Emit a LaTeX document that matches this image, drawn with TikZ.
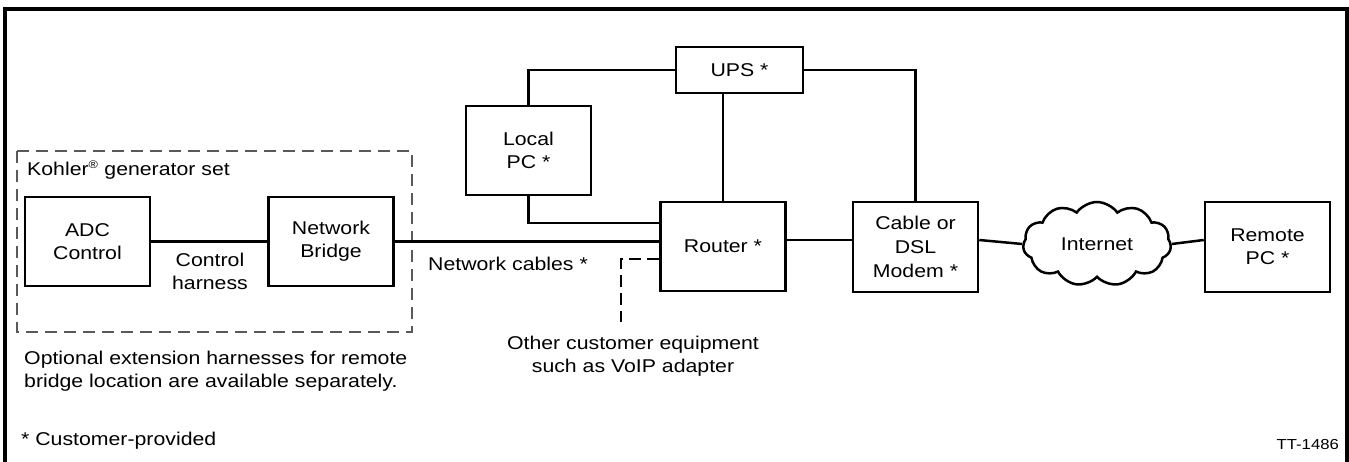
\documentclass[tikz,border=0pt]{standalone}
\usepackage{fontspec}
\setmainfont{Liberation Sans}[FakeStretch=1.15]
\usetikzlibrary{shapes.symbols}
\begin{document}
\begin{tikzpicture}[x=1pt,y=-1pt,
  every node/.style={font=\fontsize{18.5}{23}\selectfont},
  box/.style={draw,line width=2.5pt,minimum width=125pt,minimum height=89pt,align=center,inner sep=0pt},
  wire/.style={line width=2.5pt},
  dwire/.style={line width=2.5pt,dash pattern=on 12pt off 6pt},
  lbl/.style={align=center,inner sep=0pt},
]
\useasboundingbox (0,0) rectangle (1349,462);
% frame
\draw[line width=3.5pt] (5,470) -- (5,9) -- (1347,9) -- (1347,470);
% dashed group
\draw[gray!70!black,line width=1.3pt,dash pattern=on 12pt off 7pt] (17,151) rectangle (412,332);
\node[lbl,anchor=west] (kohler) at (27,170) {Kohler\textsuperscript{\fontsize{11}{11}\selectfont ®} generator set};
% boxes
\node[box] (adc) at (87.5,241.5) {ADC\\Control};
\node[box] (bridge) at (331,241.5) {Network\\Bridge};
\node[box] (router) at (723,246.5) {Router *};
\node[box] (local) at (528.5,150.5) {Local\\PC *};
\node[box,minimum width=127pt,minimum height=46pt] (ups) at (739.5,70) {UPS *};
\node[box,minimum height=90pt,font=\fontsize{18.5}{24}\selectfont] (modem) at (915.5,247) {Cable or\\DSL\\Modem *};
\node[box,minimum height=90pt] (remote) at (1267.5,247) {Remote\\PC *};
\node[cloud,draw,line width=2.5pt,cloud puffs=11,cloud puff arc=110,aspect=1.9,minimum width=148pt,minimum height=84pt,inner sep=0pt] (net) at (1097,244) {Internet};
% connectors
\draw[wire] (adc) -- (bridge);
\draw[wire] (bridge.east) -- (bridge.east -| router.west);
\draw[wire] (local.north) |- (ups.west);
\draw[wire] (local.south) |- ([yshift=23.5pt]router.west);
\draw[wire] (ups.south -| router.north) -- (router.north);
\draw[wire] (ups.east) -| (modem.north);
\draw[wire] ([yshift=6.5pt]router.east) -- ([yshift=7pt]modem.west);
\draw[wire] ([yshift=7pt]modem.east) -- (net.west);
\draw[wire] (net.east) -- ([yshift=7pt]remote.west);
\coordinate (oend) at (621,322);
\draw[dwire] ([yshift=-12.5pt]router.west) -| (oend);
% labels
\node[lbl] (ctrl) at (210,271) {Control\\harness};
\node[lbl,anchor=west] (cables) at (428,264) {Network cables *};
\node[lbl] (other) at (633,356) {Other customer equipment\\such as VoIP adapter};
\node[lbl,anchor=west,align=left] (opt) at (24,371) {Optional extension harnesses for remote\\bridge location are available separately.};
\node[lbl,anchor=west] (cust) at (21,441) {* Customer-provided};
\node[lbl,anchor=east,font=\fontsize{14.5}{16}\selectfont] (tt) at (1339,445) {TT-1486};
\end{tikzpicture}
\end{document}
